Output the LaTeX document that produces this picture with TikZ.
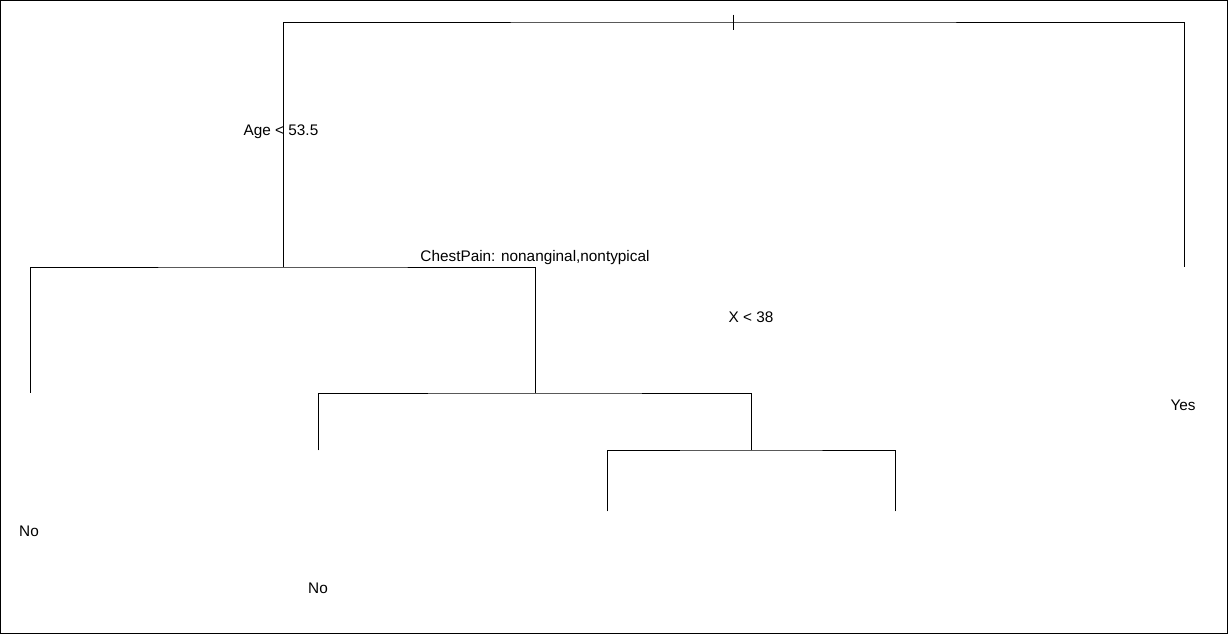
\documentclass[tikz,border=0pt]{standalone}
\usepackage{fontspec}
\setmainfont{Liberation Sans}
\begin{document}
\begin{tikzpicture}[x=0.75pt,y=-0.75pt,
  edge/.style={line width=0.7pt, line cap=rect},
  lab/.style={font=\fontsize{11.5}{13.5}\selectfont, inner sep=0pt, anchor=center}]
\useasboundingbox (0,0) rectangle (1228,634);
\draw[line width=0.9pt] (0.6,0.6) rectangle (1227.4,633.4);
% split points and leaf ends
\coordinate (root) at (733,22);
\coordinate (n1) at (283,267);
\coordinate (yesend) at (1184,267);
\coordinate (n2) at (535,393);
\coordinate (no1end) at (30,393);
\coordinate (n3) at (751,450);
\coordinate (no2end) at (318,450);
\coordinate (l3) at (607,511);
\coordinate (l4) at (895,511);
\coordinate (tickA) at (733,15);
\coordinate (tickB) at (733,30);
% connectors
\draw[edge] (tickA) -- (tickB);
\draw[edge] (n1) |- (root) -| (yesend);
\draw[edge] (no1end) |- (n1) -| (n2);
\draw[edge] (no2end) |- (n2) -| (n3);
\draw[edge] (l3) |- (n3) -| (l4);
% labels
\node[lab] (t1) at (281,132) {Age < 53.5};
\node[lab] (t2) at (535,258) {ChestPain: nonanginal,nontypical};
\node[lab] (t3) at (751,317) {X < 38};
\node[lab] (t4) at (1183,405) {Yes};
\node[lab] (t5) at (29,531) {No};
\node[lab] (t6) at (318,588) {No};
\end{tikzpicture}
\end{document}
